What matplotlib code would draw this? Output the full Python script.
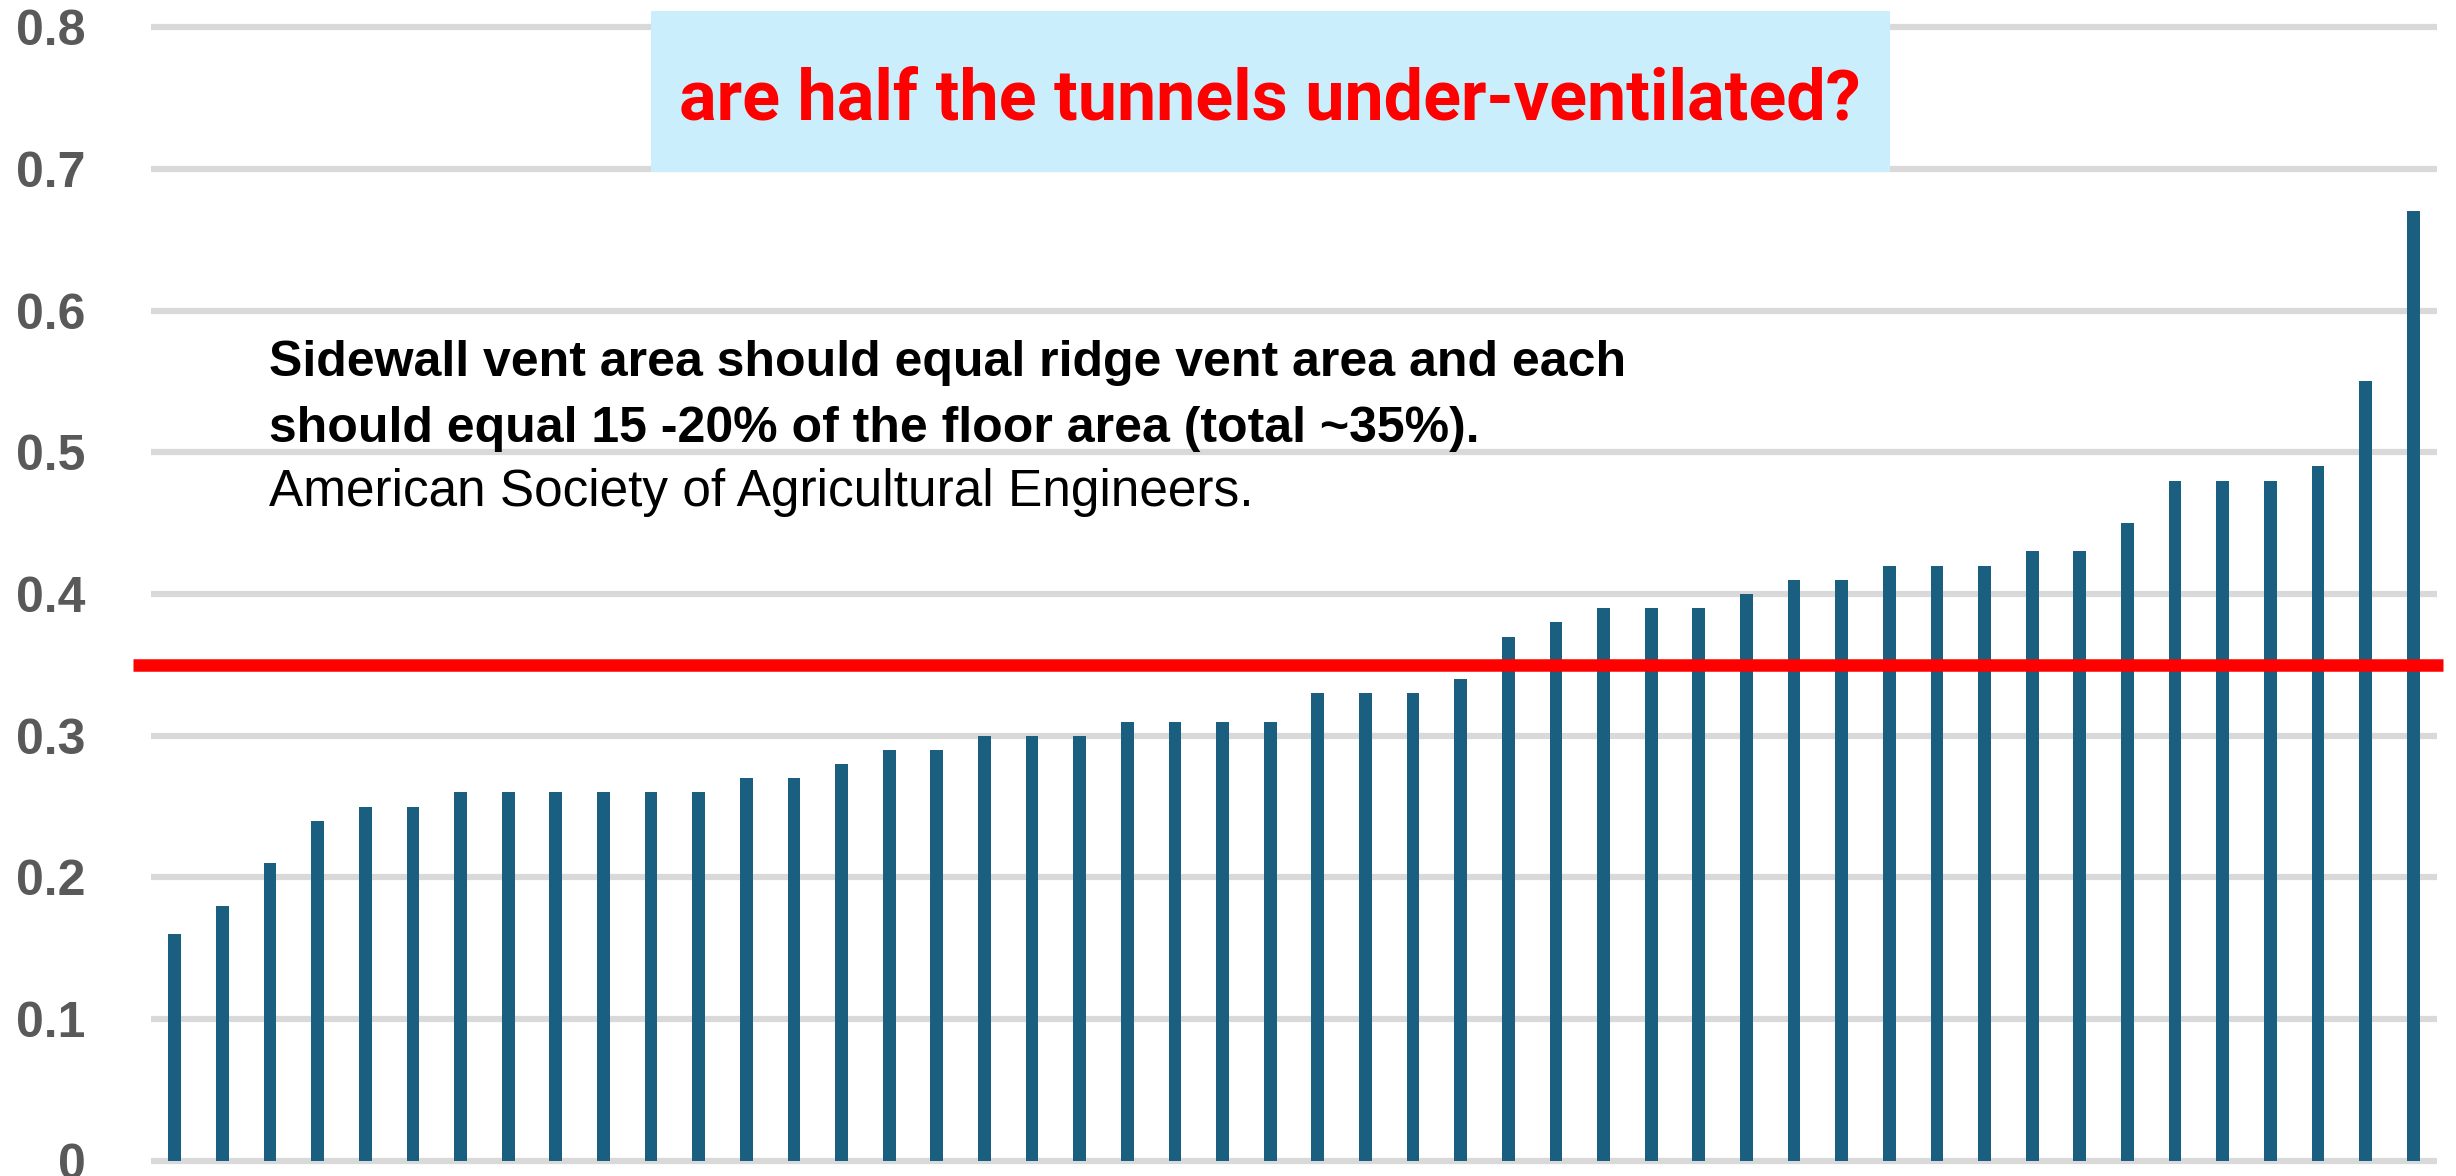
import matplotlib.pyplot as plt
from matplotlib.patches import Rectangle
import numpy as np

# ratio of vent area to floor area, one bar per tunnel (sorted)
values = [0.16, 0.18, 0.21, 0.24, 0.25, 0.25, 0.26, 0.26, 0.26, 0.26, 0.26, 0.26,
          0.27, 0.27, 0.28, 0.29, 0.29, 0.30, 0.30, 0.30, 0.31, 0.31, 0.31, 0.31,
          0.33, 0.33, 0.33, 0.34, 0.37, 0.38, 0.39, 0.39, 0.39, 0.40, 0.41, 0.41,
          0.42, 0.42, 0.42, 0.43, 0.43, 0.45, 0.48, 0.48, 0.48, 0.49, 0.55, 0.67]
yticks = [0, 0.1, 0.2, 0.3, 0.4, 0.5, 0.6, 0.7, 0.8]
ytick_labels = ['0', '0.1', '0.2', '0.3', '0.4', '0.5', '0.6', '0.7', '0.8']
target = 0.35

title = 'are half the tunnels under-ventilated?'
note_bold = ['Sidewall vent area should equal ridge vent area and each',
             'should equal 15 -20% of the floor area (total ~35%).']
note_src = 'American Society of Agricultural Engineers.'

W, H = 2456, 1176
fig = plt.figure(figsize=(W / 100, H / 100), dpi=100)
ax = fig.add_axes([151 / W, 8 / H, (2437 - 151) / W, 1148 / H])

x = np.arange(len(values))
ax.bar(x, values, width=0.27, color='#1a5e80', zorder=3)
ax.plot([-0.88, 47.63], [target, target], color='#ff0000', lw=9,
        solid_capstyle='butt', clip_on=False, zorder=4)

ax.set_xlim(-0.5, len(values) - 0.5)
ax.set_ylim(-0.005, 0.805)
ax.set_yticks(yticks)
ax.set_yticklabels(ytick_labels)
ax.set_xticks([])
ax.tick_params(axis='y', length=0, pad=47, labelsize=36, labelcolor='#595959')
for lab in ax.get_yticklabels():
    lab.set_fontfamily('Liberation Sans')
    lab.set_fontweight('bold')
ax.yaxis.grid(True, color='#d9d9d9', lw=4.5, zorder=0)
ax.set_axisbelow(True)
for s in ax.spines.values():
    s.set_visible(False)

# title box
fig.patches.append(Rectangle((651 / W, 1 - 172 / H), (1890 - 651) / W, 161 / H,
                             transform=fig.transFigure, facecolor='#caeefb',
                             edgecolor='none', zorder=5))
fig.text(1270 / W, 1 - 119 / H, title, ha='center', va='baseline', color='#ff0000',
         fontsize=50.5, fontweight='bold', family='Roboto', zorder=6)

# note
fig.text(269 / W, 1 - 376 / H, note_bold[0], fontsize=36, fontweight='bold',
         family='Liberation Sans', va='baseline')
fig.text(269 / W, 1 - 442 / H, note_bold[1], fontsize=36, fontweight='bold',
         family='Liberation Sans', va='baseline')
fig.text(269 / W, 1 - 506 / H, note_src, fontsize=37,
         family='Liberation Sans', va='baseline')

fig.savefig('out.png', dpi=100, facecolor='white')
